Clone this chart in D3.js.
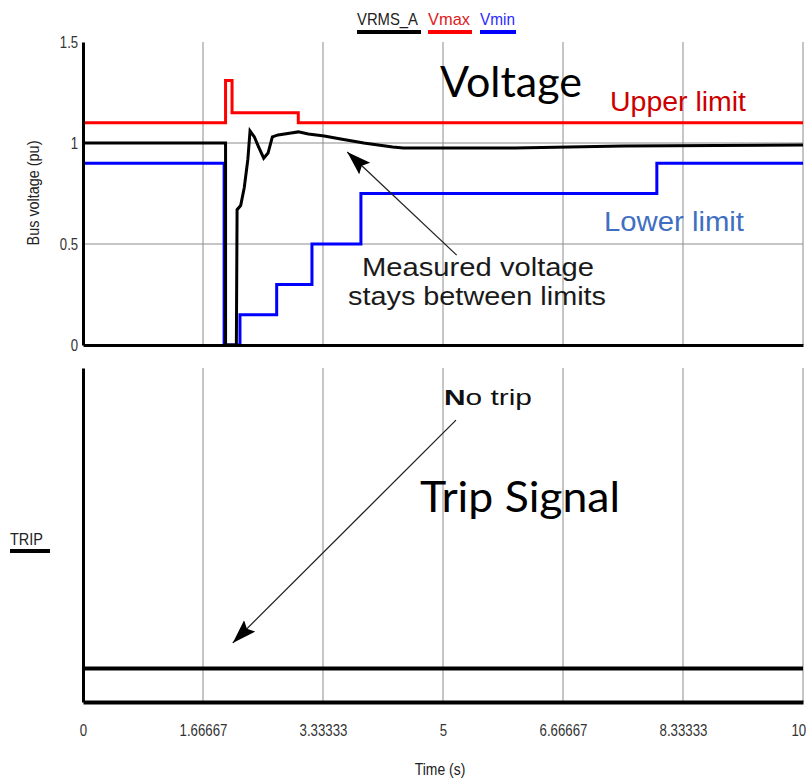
<!DOCTYPE html>
<html>
<head>
<meta charset="utf-8">
<script src="https://cdn.jsdelivr.net/npm/d3@7"></script>
<style>
  body { margin: 0; background: #fff; }
  svg { display: block; }
  .narrow { font-family: "Liberation Sans", Arial, sans-serif; }
</style>
</head>
<body>
<div id="chart"></div>
<script>
// time axis
var tickValues = [0, 1.66667, 3.33333, 5, 6.66667, 8.33333, 10];
var tickLabels = ["0", "1.66667", "3.33333", "5", "6.66667", "8.33333", "10"];
var voltTicks = [0, 0.5, 1, 1.5];
var voltLabels = ["0", "0.5", "1", "1.5"];

// VRMS_A measured voltage (t, pu)
var vrmsT = [0, 1.98, 1.98, 2.13, 2.14, 2.19, 2.24, 2.29, 2.32, 2.38, 2.44, 2.51, 2.57, 2.63, 2.71, 2.89, 2.99, 3.13, 3.35, 3.58, 3.9, 4.3, 4.45, 6.0, 7.5, 10];
var vrmsV = [1.0, 1.0, 0, 0, 0.67, 0.69, 0.78, 0.92, 1.06, 1.03, 0.98, 0.925, 0.95, 1.03, 1.04, 1.05, 1.055, 1.045, 1.035, 1.02, 1.0, 0.98, 0.975, 0.975, 0.985, 0.99];

// Vmax upper limit (step after)
var vmaxT = [0, 1.98, 2.07, 2.99, 10];
var vmaxV = [1.1, 1.31, 1.15, 1.1, 1.1];

// Vmin lower limit (step after)
var vminT = [0, 1.96, 2.18, 2.69, 3.18, 3.86, 7.97, 10];
var vminV = [0.9, 0, 0.15, 0.3, 0.5, 0.75, 0.9, 0.9];

// trip signal
var tripT = [0, 10];
var tripV = [0, 0];

var width = 810, height = 778;
var svg = d3.select("#chart").append("svg")
  .attr("width", width).attr("height", height);

var x = d3.scaleLinear().domain([0, 10]).range([83, 803]);
var yV = d3.scaleLinear().domain([0, 1.5]).range([345, 42]);
var yT = d3.scaleLinear().domain([-0.1, 0.9]).range([702, 368]);

var defs = svg.append("defs");
defs.append("marker")
  .attr("id", "head")
  .attr("markerUnits", "userSpaceOnUse")
  .attr("markerWidth", 26).attr("markerHeight", 18)
  .attr("refX", 24).attr("refY", 8)
  .attr("orient", "auto")
  .append("path")
  .attr("d", "M0,0 L24,8 L0,16 L4,8 Z")
  .attr("fill", "#000");

// grids
function grid(top, bottom, yScale, hTicks) {
  var g = svg.append("g");
  g.selectAll("line.v").data(tickValues.slice(1)).enter().append("line")
    .attr("x1", d => x(d)).attr("x2", d => x(d))
    .attr("y1", top).attr("y2", bottom)
    .attr("stroke", "#8c8c8c").attr("stroke-width", 1);
  g.selectAll("line.h").data(hTicks).enter().append("line")
    .attr("x1", x(0)).attr("x2", x(10))
    .attr("y1", d => yScale(d)).attr("y2", d => yScale(d))
    .attr("stroke", "#8c8c8c").attr("stroke-width", 1);
}
grid(yV(1.5), yV(0), yV, [0.5, 1]);
grid(yT(0.9), yT(-0.1), yT, []);

// series
function series(ts, vs, yScale, curve, color, w) {
  var pts = ts.map((t, i) => [t, vs[i]]);
  var line = d3.line().x(d => x(d[0])).y(d => yScale(d[1])).curve(curve);
  svg.append("path").datum(pts)
    .attr("d", line)
    .attr("fill", "none")
    .attr("stroke", color)
    .attr("stroke-width", w)
    .attr("stroke-linejoin", "miter");
}
series(vmaxT, vmaxV, yV, d3.curveStepAfter, "#ff0000", 3);
series(vminT, vminV, yV, d3.curveStepAfter, "#0000ff", 3);
series(vrmsT, vrmsV, yV, d3.curveLinear, "#000000", 3);
series(tripT, tripV, yT, d3.curveLinear, "#000000", 4);

// axes (labels squeezed to look like a narrow face)
var yAxis = svg.append("g").attr("class", "narrow")
  .attr("transform", "translate(" + x(0) + ",0)")
  .call(d3.axisLeft(yV).tickValues(voltTicks).tickFormat((d, i) => voltLabels[i]).tickSize(0).tickPadding(6));
yAxis.select(".domain").attr("stroke", "#000").attr("stroke-width", 3);
yAxis.selectAll("text").attr("font-size", 16).attr("fill", "#333").attr("font-family", null)
  .attr("transform", "scale(0.82,1)");

var xAxisTop = svg.append("g")
  .attr("transform", "translate(0," + yV(0) + ")")
  .call(d3.axisBottom(x).tickValues([]).tickSize(0));
xAxisTop.select(".domain").attr("stroke", "#000").attr("stroke-width", 3);

var tripAxis = svg.append("g")
  .attr("transform", "translate(" + x(0) + ",0)")
  .call(d3.axisLeft(yT).tickValues([]).tickSize(0));
tripAxis.select(".domain").attr("stroke", "#000").attr("stroke-width", 3);

var xAxis = svg.append("g").attr("class", "narrow")
  .attr("transform", "translate(0," + yT(-0.1) + ")")
  .call(d3.axisBottom(x).tickValues(tickValues).tickFormat((d, i) => tickLabels[i]).tickSize(0).tickPadding(22));
xAxis.select(".domain").attr("stroke", "#000").attr("stroke-width", 4);
xAxis.selectAll("text").attr("font-size", 17).attr("fill", "#333").attr("font-family", null)
  .attr("transform", "scale(0.78,1)");
xAxis.selectAll(".tick").filter(d => d === 10).select("text")
  .attr("x", -6);

// axis titles
svg.append("text").attr("class", "narrow")
  .attr("transform", "translate(39,193) rotate(-90) scale(0.9,1)")
  .attr("text-anchor", "middle")
  .attr("font-size", 16).attr("fill", "#222")
  .text("Bus voltage (pu)");

svg.append("text").attr("class", "narrow")
  .attr("transform", "translate(440,775) scale(0.82,1)")
  .attr("text-anchor", "middle")
  .attr("font-size", 17).attr("fill", "#222")
  .text("Time (s)");

// legend
var legend = [
  {name: "VRMS_A", color: "#000", text: "#222", x: 357, w: 64, tw: 61},
  {name: "Vmax", color: "#ff0000", text: "#e02020", x: 428, w: 44, tw: 42},
  {name: "Vmin", color: "#0000ff", text: "#2a2aff", x: 480, w: 36, tw: 35}
];
var lg = svg.append("g").attr("class", "narrow");
legend.forEach(function(d) {
  lg.append("text").attr("x", d.x).attr("y", 25)
    .attr("font-size", 17).attr("fill", d.text)
    .attr("textLength", d.tw).attr("lengthAdjust", "spacingAndGlyphs")
    .text(d.name);
  lg.append("rect").attr("x", d.x).attr("y", 30).attr("width", d.w).attr("height", 4)
    .attr("fill", d.color);
});

// trip label
svg.append("text").attr("class", "narrow")
  .attr("x", 10).attr("y", 545)
  .attr("font-size", 16).attr("fill", "#222")
  .attr("textLength", 33).attr("lengthAdjust", "spacingAndGlyphs")
  .text("TRIP");
svg.append("rect").attr("x", 10).attr("y", 549).attr("width", 40).attr("height", 4).attr("fill", "#000");

// annotations
function note(txt, xp, yp, size, color, len, anchor, family, weight) {
  return svg.append("text")
    .attr("x", xp).attr("y", yp)
    .attr("font-size", size).attr("fill", color)
    .attr("text-anchor", anchor || "start")
    .attr("font-family", family || "'Liberation Sans', Arial, sans-serif")
    .attr("font-weight", weight || "normal")
    .attr("textLength", len).attr("lengthAdjust", "spacingAndGlyphs")
    .text(txt);
}
note("Voltage", 440, 97, 43, "#000", 142, "start", "Lato, 'Open Sans', sans-serif");
note("Trip Signal", 420, 512, 43, "#000", 200, "start", "Lato, 'Open Sans', sans-serif");
note("Upper limit", 610, 111, 27, "#cc0000", 136);
note("Lower limit", 604, 231, 27, "#3f6fc2", 140);
note("Measured voltage", 478, 276, 26, "#1a1a1a", 232, "middle");
note("stays between limits", 477, 305, 26, "#1a1a1a", 258, "middle");

var nt = svg.append("text").attr("x", 444).attr("y", 405)
  .attr("font-size", 22).attr("fill", "#111")
  .attr("font-family", "'Liberation Sans', Arial, sans-serif")
  .attr("textLength", 88).attr("lengthAdjust", "spacingAndGlyphs");
nt.append("tspan").attr("font-weight", "bold").text("N");
nt.append("tspan").text("o trip");

// arrows
svg.append("line")
  .attr("x1", x(5.19)).attr("y1", yV(0.445))
  .attr("x2", x(3.67)).attr("y2", yV(0.955))
  .attr("stroke", "#222").attr("stroke-width", 1.3)
  .attr("marker-end", "url(#head)");
svg.append("line")
  .attr("x1", x(5.18)).attr("y1", yT(0.744))
  .attr("x2", x(2.08)).attr("y2", yT(0.077))
  .attr("stroke", "#222").attr("stroke-width", 1.3)
  .attr("marker-end", "url(#head)");
</script>
</body>
</html>
